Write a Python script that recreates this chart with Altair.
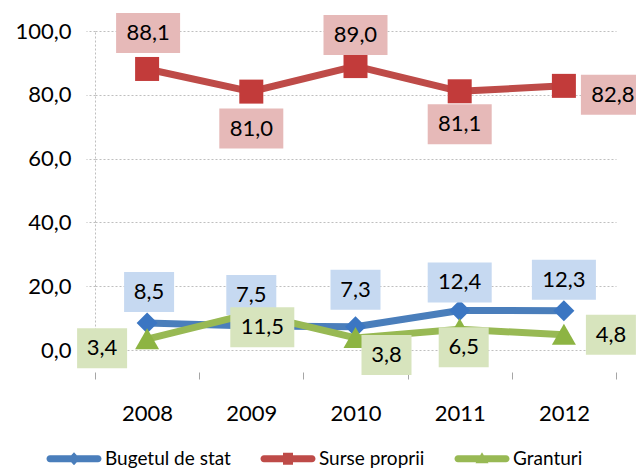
import altair as alt
import pandas as pd

# ---------------- data ----------------
years = ["2008", "2009", "2010", "2011", "2012"]
series = ["Bugetul de stat", "Surse proprii", "Granturi"]
bugetul_de_stat = [8.5, 7.5, 7.3, 12.4, 12.3]
surse_proprii = [88.1, 81.0, 89.0, 81.1, 82.8]
granturi = [3.4, 11.5, 3.8, 6.5, 4.8]
y_ticks = [0, 20, 40, 60, 80, 100]

# ---------------- layout / style ----------------
FONT = "Lato"
W, H = 521, 319
HALF_BAND = W / len(years) / 2
line_colors = ["#4A7EBB", "#BE4B48", "#98B954"]
marker_colors = {"Bugetul de stat": "#3B76C2", "Surse proprii": "#C23B3A", "Granturi": "#8DB443"}
box_colors = {"Bugetul de stat": "#C6D9F1", "Surse proprii": "#E6B9B8", "Granturi": "#D7E4BD"}
marker_paths = {
    "Bugetul de stat": "M0,-1.05L1.05,0L0,1.05L-1.05,0Z",
    "Surse proprii": "M-1.2,-1.2H1.2V1.2H-1.2Z",
    "Granturi": "M0,-1.1L1.2,1H-1.2Z",
}
LEG_LINE = "M-0.3,-0.7H9.3A0.7,0.7 0 0 1 9.3,0.7H-0.3A0.7,0.7 0 0 1 -0.3,-0.7Z"
legend_paths = [
    LEG_LINE + " M4.5,-1.3L5.7,0L4.5,1.3L3.3,0Z",
    LEG_LINE + " M3.5,-1.2H5.5V1.2H3.5Z",
    LEG_LINE + " M4.5,-1.3L5.8,0.9H3.2Z",
]
# label box offsets (pixels) relative to each point
label_dx = {"Bugetul de stat": [2, 0, 0, 0, 0],
            "Surse proprii": [1, 0, 0, 0, 49],
            "Granturi": [-45, 11, 31, 4, 47]}
label_dy = {"Bugetul de stat": [-31, -31, -37, -28, -31],
            "Surse proprii": [-36, 37, -31, 33, 9],
            "Granturi": [9, 14, 17, 18, 0]}
BOX_WIDE = "M-3.2,-2H3.2V2H-3.2Z"
BOX_NARROW = "M-2.5,-2H2.5V2H-2.5Z"

values = {"Bugetul de stat": bugetul_de_stat, "Surse proprii": surse_proprii, "Granturi": granturi}

rows = []
for s in series:
    for i, (yr, v) in enumerate(zip(years, values[s])):
        lab = f"{v:.1f}".replace(".", ",")
        rows.append(dict(year=yr, series=s, value=v, label=lab,
                         dx=label_dx[s][i], dy=label_dy[s][i],
                         mshape=marker_paths[s], mfill=marker_colors[s],
                         bfill=box_colors[s],
                         box=BOX_WIDE if len(lab) > 3 else BOX_NARROW))
df = pd.DataFrame(rows)

x_enc = alt.X("year:O",
              scale=alt.Scale(type="band", paddingInner=0, paddingOuter=0),
              axis=alt.Axis(title=None, tickBand="extent", labelAngle=0, offset=22))
y_axis = alt.Axis(title=None, values=y_ticks,
                  labelExpr="replace(format(datum.value,'.1f'),'.',',')")
y_scale = alt.Scale(domain=[0, 100], nice=False)
y_enc = alt.Y("value:Q", scale=y_scale, axis=y_axis)

base = alt.Chart(df)

legend = alt.Legend(title=None, orient="none", legendX=-53, legendY=418,
                    direction="horizontal", symbolSize=100, labelOffset=44,
                    columnPadding=25, padding=0, labelFont=FONT, labelFontSize=19,
                    labelColor="#000000", symbolOpacity=1, symbolStrokeWidth=0)

legend_layer = base.mark_point(filled=True, opacity=0).encode(
    x=x_enc, y=y_enc,
    fill=alt.Fill("series:N", scale=alt.Scale(domain=series, range=line_colors), legend=legend),
    shape=alt.Shape("series:N", scale=alt.Scale(domain=series, range=legend_paths), legend=legend),
)

lines = base.mark_line(strokeWidth=7, strokeCap="round", strokeJoin="round").encode(
    x=x_enc, y=y_enc,
    stroke=alt.Stroke("series:N", scale=alt.Scale(domain=series, range=line_colors), legend=None),
    detail="series:N",
)

markers = base.mark_point(filled=True, opacity=1, size=400).encode(
    x=x_enc, y=y_enc,
    shape=alt.Shape("mshape:N", scale=None),
    fill=alt.Fill("mfill:N", scale=None),
)

# label anchor: x = band centre + dx px (via xOffset), y = value shifted by dy px
lab_base = base.transform_calculate(
    lx=f"datum.dx + {HALF_BAND}",
    ly=f"datum.value - datum.dy * {100 / H}",
)
off_x = alt.XOffset("lx:Q", scale=alt.Scale(domain=[-300, 300], range=[-300, 300]))
y_lab = alt.Y("ly:Q", scale=y_scale, axis=y_axis)

label_layers = []
for s in series:
    sub = lab_base.transform_filter(alt.datum.series == s)
    boxes = sub.mark_point(filled=True, opacity=1, size=400).encode(
        x=x_enc, y=y_lab, xOffset=off_x,
        shape=alt.Shape("box:N", scale=None),
        fill=alt.Fill("bfill:N", scale=None),
    )
    texts = sub.mark_text(font=FONT, fontSize=22, color="#000000", baseline="middle",
                          align="center").encode(
        x=x_enc, y=y_lab, xOffset=off_x, text="label:N")
    label_layers += [boxes, texts]

chart = alt.layer(legend_layer, lines, markers, *label_layers).properties(
    width=W, height=H,
    padding={"left": 87, "top": 23, "right": 20, "bottom": 118},
    autosize=alt.AutoSizeParams(type="none"),
).configure_view(
    stroke=None
).configure_axisX(
    domain=False, grid=False, ticks=True, tickSize=7, tickColor="#A6A6A6",
    labelPadding=24, labelFontSize=22, labelFont=FONT, labelColor="#000000",
).configure_axisY(
    grid=True, gridDash=[2, 2], gridColor="#BFBFBF",
    domain=True, domainDash=[2, 2], domainColor="#BFBFBF",
    ticks=True, tickDash=[2, 2], tickColor="#BFBFBF", tickSize=9,
    labelPadding=15, labelFontSize=22, labelFont=FONT, labelColor="#000000",
)

chart.save("out.html", embed_options={"renderer": "svg", "actions": False})
